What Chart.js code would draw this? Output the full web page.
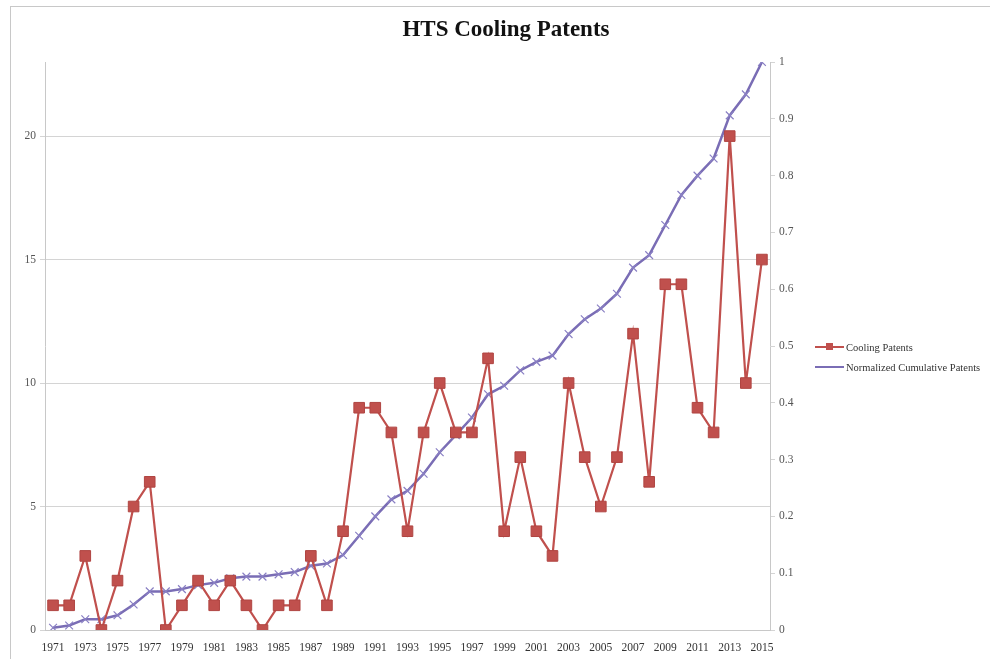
<!DOCTYPE html>
<html>
<head>
<meta charset="utf-8">
<title>HTS Cooling Patents</title>
<script src="https://cdn.jsdelivr.net/npm/chart.js@4.4.0/dist/chart.umd.min.js"></script>
<style>
  body { margin: 0; background: #fff; }
  #wrap { position: relative; width: 990px; height: 659px; }
  #frame { position: absolute; left: 10px; top: 6px; width: 990px; height: 700px; border: 1px solid #c8c8c8; box-sizing: border-box; }
  #title { position: absolute; left: 0; top: 16px; width: 1012px; text-align: center; font-family: 'Liberation Serif', serif; font-size: 23px; font-weight: bold; color: #111; }
  #legend { position: absolute; left: 815px; top: 337px; font-family: 'Liberation Serif', serif; font-size: 10.5px; color: #333; }
  .row { display: flex; align-items: center; height: 20px; }
  .swatch { position: relative; width: 29px; height: 2px; margin-right: 2px; }
  .swatch .mark { position: absolute; left: 11px; top: -3px; width: 7px; height: 7px; }
</style>
</head>
<body>
<div id="wrap">
  <div id="frame"></div>
  <canvas id="chart" width="990" height="659"></canvas>
  <div id="title">HTS Cooling Patents</div>
  <div id="legend">
    <div class="row"><span class="swatch" style="background:#c0504d"><span class="mark" style="background:#c0504d"></span></span>Cooling Patents</div>
    <div class="row"><span class="swatch" style="background:#7a6db5"></span>Normalized Cumulative Patents</div>
  </div>
</div>
<script>
'use strict';

// data
const years = ['1971', '1972', '1973', '1974', '1975', '1976', '1977', '1978', '1979', '1980',
  '1981', '1982', '1983', '1984', '1985', '1986', '1987', '1988', '1989', '1990',
  '1991', '1992', '1993', '1994', '1995', '1996', '1997', '1998', '1999', '2000',
  '2001', '2002', '2003', '2004', '2005', '2006', '2007', '2008', '2009', '2010',
  '2011', '2012', '2013', '2014', '2015'];

const coolingPatents = [1, 1, 3, 0, 2, 5, 6, 0, 1, 2,
  1, 2, 1, 0, 1, 1, 3, 1, 4, 9,
  9, 8, 4, 8, 10, 8, 8, 11, 4, 7,
  4, 3, 10, 7, 5, 7, 12, 6, 14, 14,
  9, 8, 20, 10, 15];

const normalizedCumulative = [0.004, 0.008, 0.019, 0.019, 0.026, 0.045, 0.068, 0.068, 0.072, 0.079,
  0.083, 0.091, 0.094, 0.094, 0.098, 0.102, 0.113, 0.117, 0.132, 0.166,
  0.2, 0.23, 0.245, 0.275, 0.313, 0.343, 0.374, 0.415, 0.43, 0.457,
  0.472, 0.483, 0.521, 0.547, 0.566, 0.592, 0.638, 0.66, 0.713, 0.766,
  0.8, 0.83, 0.906, 0.943, 1];

const leftTicksMax = 23;
const rightTicksMax = 1;

const serif = "'Liberation Serif', 'Times New Roman', serif";

const ctx = document.getElementById('chart').getContext('2d');

new Chart(ctx, {
  type: 'line',
  data: {
    labels: years,
    datasets: [{
      label: 'Cooling Patents',
      data: coolingPatents,
      yAxisID: 'y',
      borderColor: '#c0504d',
      backgroundColor: '#c0504d',
      borderWidth: 2.2,
      pointStyle: 'rect',
      pointRadius: 7.5,
      pointBorderColor: '#b04542',
      pointBorderWidth: 1,
      tension: 0
    }, {
      label: 'Normalized Cumulative Patents',
      data: normalizedCumulative,
      yAxisID: 'y1',
      borderColor: '#7a6db5',
      backgroundColor: '#7a6db5',
      borderWidth: 2.5,
      pointStyle: 'crossRot',
      pointRadius: 5.5,
      pointBorderColor: '#8a80c4',
      pointBorderWidth: 1.2,
      tension: 0
    }]
  },
  options: {
    responsive: false,
    animation: false,
    layout: {
      padding: { left: 10, right: 180, top: 62, bottom: 0 }
    },
    plugins: {
      legend: { display: false },
      tooltip: { enabled: false }
    },
    scales: {
      x: {
        offset: true,
        grid: { display: false },
        border: { display: true, color: '#c8c8c8', width: 1 },
        ticks: {
          autoSkip: false,
          maxRotation: 0,
          padding: 3,
          color: '#333',
          font: { family: serif, size: 11.5 },
          callback: function (value, index) {
            return index % 2 === 0 ? this.getLabelForValue(value) : '';
          }
        },
        afterFit: function (scale) { scale.height = 29; }
      },
      y: {
        position: 'left',
        min: 0,
        max: leftTicksMax,
        grid: { color: '#d4d4d4', lineWidth: 1, tickLength: 5 },
        border: { color: '#c8c8c8', width: 1 },
        ticks: {
          stepSize: 5,
          includeBounds: false,
          padding: 4,
          color: '#555',
          font: { family: serif, size: 11.5 }
        },
        afterFit: function (scale) { scale.width = 35; }
      },
      y1: {
        position: 'right',
        min: 0,
        max: rightTicksMax,
        grid: { drawOnChartArea: false, color: '#d4d4d4', tickLength: 5 },
        border: { color: '#c8c8c8', width: 1 },
        ticks: {
          stepSize: 0.1,
          padding: 4,
          color: '#555',
          font: { family: serif, size: 11.5 },
          callback: function (value) { return String(Number(value.toFixed(1))); }
        },
        afterFit: function (scale) { scale.width = 40; }
      }
    }
  }
});
</script>
</body>
</html>
